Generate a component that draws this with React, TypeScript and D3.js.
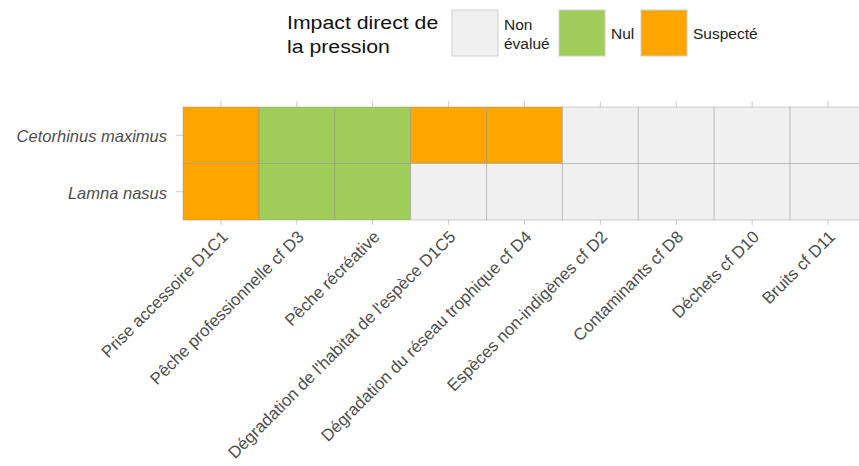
import React from "react";
import * as d3 from "d3";

const pressures = [
  "Prise accessoire D1C1",
  "Pêche professionnelle cf D3",
  "Pêche récréative",
  "Dégradation de l'habitat de l'espèce D1C5",
  "Dégradation du réseau trophique cf D4",
  "Espèces non-indigènes cf D2",
  "Contaminants cf D8",
  "Déchets cf D10",
  "Bruits cf D11",
];
const species = ["Cetorhinus maximus", "Lamna nasus"];
const cetorhinusValues = ["Suspecté", "Nul", "Nul", "Suspecté", "Suspecté", "Non évalué", "Non évalué", "Non évalué", "Non évalué"];
const lamnaValues = ["Suspecté", "Nul", "Nul", "Non évalué", "Non évalué", "Non évalué", "Non évalué", "Non évalué", "Non évalué"];
const levels = ["Non évalué", "Nul", "Suspecté"];
const levelLabels = [["Non", "évalué"], ["Nul"], ["Suspecté"]];
const levelColors = ["#F0F0F0", "#A0CC5A", "#FFA500"];

const seriesBySpecies = [cetorhinusValues, lamnaValues];

export default function App() {
  const W = 859, H = 466;
  const x = d3.scaleBand<string>().domain(pressures).range([183, 866]).padding(0);
  const y = d3.scaleBand<string>().domain(species).range([107, 220]).padding(0);
  const color = d3.scaleOrdinal<string, string>().domain(levels).range(levelColors);
  const font = "'Liberation Sans', Arial, sans-serif";

  const cells = species.flatMap((s, i) =>
    pressures.map((p, j) => ({ s, p, v: seriesBySpecies[i][j] }))
  );

  const legendKeyX = [452, 559, 641];
  return (
    <svg width={W} height={H} style={{ position: "absolute", left: 0, top: 0, background: "#fff" }} fontFamily={font}>
      {/* legend */}
      <g transform="translate(287,0) scale(1.12,1) translate(-287,0)">
        <text x={287} y={29} fontSize={19} fill="#111">Impact direct de</text>
        <text x={287} y={53} fontSize={19} fill="#111">la pression</text>
      </g>
      {levels.map((lv, i) => (
        <g key={lv}>
          <rect x={legendKeyX[i]} y={10} width={46} height={46} fill={color(lv)} stroke="#cfcfcf" strokeWidth={1} />
          {levelLabels[i].length === 2 ? (
            <>
              <text x={legendKeyX[i] + 52} y={30} fontSize={15.5} fill="#222">{levelLabels[i][0]}</text>
              <text x={legendKeyX[i] + 52} y={49} fontSize={15.5} fill="#222">{levelLabels[i][1]}</text>
            </>
          ) : (
            <text x={legendKeyX[i] + 52} y={38.5} fontSize={15.5} fill="#222">{levelLabels[i][0]}</text>
          )}
        </g>
      ))}
      {/* ticks */}
      {pressures.map((p) => {
        const cx = x(p)! + x.bandwidth() / 2;
        return (
          <g key={p}>
            <line x1={cx} x2={cx} y1={101} y2={107} stroke="#ccc" />
            <line x1={cx} x2={cx} y1={220} y2={225} stroke="#ccc" />
          </g>
        );
      })}
      {species.map((s) => {
        const cy = y(s)! + y.bandwidth() / 2;
        return <line key={s} x1={176} x2={183} y1={cy} y2={cy} stroke="#ccc" />;
      })}
      {/* cells */}
      {cells.map((c) => (
        <rect
          key={c.s + c.p}
          x={x(c.p)!}
          y={y(c.s)!}
          width={x.bandwidth()}
          height={y.bandwidth()}
          fill={color(c.v)}
          stroke="#808080"
          strokeOpacity={0.35}
          strokeWidth={1}
        />
      ))}
      {/* y labels */}
      {species.map((s) => (
        <text
          key={s}
          x={167}
          y={y(s)! + y.bandwidth() / 2 + 1}
          dy="0.35em"
          textAnchor="end"
          fontSize={16.5}
          fontStyle="italic"
          fill="#4d4d4d"
        >
          {s}
        </text>
      ))}
      {/* x labels */}
      {pressures.map((p) => {
        const cx = x(p)! + x.bandwidth() / 2;
        return (
          <text
            key={p}
            transform={`translate(${cx + 8},${238}) rotate(-45)`}
            textAnchor="end"
            fontSize={16.8}
            fill="#4d4d4d"
          >
            {p}
          </text>
        );
      })}
    </svg>
  );
}
